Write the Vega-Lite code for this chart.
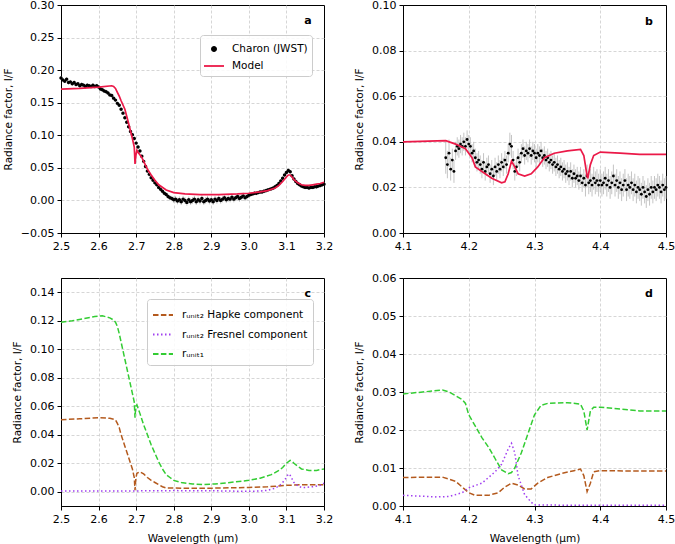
{
"$schema": "https://vega.github.io/schema/vega-lite/v6.json",
"padding": {"left": 2, "top": -2, "right": 0, "bottom": 0},
"columns": 2,
"spacing": {"row": 45, "column": 79},
"bounds": "flush",
"datasets": {
"aobs": [
{"x":2.500,"y":0.188,"e":0.003},{"x":2.505,"y":0.185,"e":0.003},{"x":2.510,"y":0.183,"e":0.003},{"x":2.515,"y":0.186,"e":0.003},{"x":2.520,"y":0.181,"e":0.003},{"x":2.525,"y":0.182,"e":0.003},{"x":2.530,"y":0.179,"e":0.003},{"x":2.535,"y":0.181,"e":0.003},{"x":2.540,"y":0.178,"e":0.003},{"x":2.545,"y":0.179,"e":0.003},
{"x":2.550,"y":0.176,"e":0.003},{"x":2.555,"y":0.178,"e":0.003},{"x":2.560,"y":0.177,"e":0.003},{"x":2.565,"y":0.175,"e":0.003},{"x":2.570,"y":0.177,"e":0.003},{"x":2.575,"y":0.176,"e":0.003},{"x":2.580,"y":0.175,"e":0.003},{"x":2.585,"y":0.177,"e":0.003},{"x":2.590,"y":0.175,"e":0.003},{"x":2.595,"y":0.176,"e":0.003},
{"x":2.600,"y":0.174,"e":0.003},{"x":2.605,"y":0.171,"e":0.003},{"x":2.610,"y":0.170,"e":0.003},{"x":2.615,"y":0.168,"e":0.003},{"x":2.620,"y":0.167,"e":0.003},{"x":2.625,"y":0.165,"e":0.003},{"x":2.630,"y":0.162,"e":0.003},{"x":2.635,"y":0.161,"e":0.003},{"x":2.640,"y":0.157,"e":0.003},{"x":2.645,"y":0.154,"e":0.003},
{"x":2.650,"y":0.149,"e":0.003},{"x":2.655,"y":0.146,"e":0.003},{"x":2.660,"y":0.140,"e":0.003},{"x":2.665,"y":0.134,"e":0.003},{"x":2.670,"y":0.127,"e":0.003},{"x":2.675,"y":0.120,"e":0.003},{"x":2.680,"y":0.113,"e":0.003},{"x":2.685,"y":0.106,"e":0.003},{"x":2.690,"y":0.101,"e":0.003},{"x":2.695,"y":0.095,"e":0.003},
{"x":2.700,"y":0.088,"e":0.003},{"x":2.705,"y":0.082,"e":0.003},{"x":2.710,"y":0.076,"e":0.003},{"x":2.715,"y":0.068,"e":0.003},{"x":2.720,"y":0.060,"e":0.003},{"x":2.725,"y":0.052,"e":0.003},{"x":2.730,"y":0.045,"e":0.003},{"x":2.735,"y":0.040,"e":0.003},{"x":2.740,"y":0.035,"e":0.003},{"x":2.745,"y":0.031,"e":0.003},
{"x":2.750,"y":0.027,"e":0.003},{"x":2.755,"y":0.024,"e":0.003},{"x":2.760,"y":0.020,"e":0.003},{"x":2.765,"y":0.017,"e":0.003},{"x":2.770,"y":0.014,"e":0.003},{"x":2.775,"y":0.011,"e":0.003},{"x":2.780,"y":0.009,"e":0.003},{"x":2.785,"y":0.006,"e":0.004},{"x":2.790,"y":0.004,"e":0.004},{"x":2.795,"y":0.003,"e":0.004},
{"x":2.800,"y":0.001,"e":0.005},{"x":2.805,"y":0.002,"e":0.005},{"x":2.810,"y":-0.001,"e":0.005},{"x":2.815,"y":0.001,"e":0.005},{"x":2.820,"y":-0.002,"e":0.005},{"x":2.825,"y":0.002,"e":0.005},{"x":2.830,"y":0.000,"e":0.005},{"x":2.835,"y":-0.003,"e":0.005},{"x":2.840,"y":0.001,"e":0.005},{"x":2.845,"y":-0.002,"e":0.005},
{"x":2.850,"y":0.000,"e":0.005},{"x":2.855,"y":0.002,"e":0.005},{"x":2.860,"y":-0.002,"e":0.005},{"x":2.865,"y":0.001,"e":0.005},{"x":2.870,"y":-0.001,"e":0.005},{"x":2.875,"y":0.003,"e":0.005},{"x":2.880,"y":-0.002,"e":0.005},{"x":2.885,"y":0.000,"e":0.005},{"x":2.890,"y":0.002,"e":0.005},{"x":2.895,"y":-0.001,"e":0.005},
{"x":2.900,"y":0.001,"e":0.005},{"x":2.905,"y":-0.002,"e":0.005},{"x":2.910,"y":0.002,"e":0.005},{"x":2.915,"y":0.000,"e":0.005},{"x":2.920,"y":0.003,"e":0.005},{"x":2.925,"y":0.000,"e":0.005},{"x":2.930,"y":0.002,"e":0.005},{"x":2.935,"y":0.004,"e":0.005},{"x":2.940,"y":0.001,"e":0.005},{"x":2.945,"y":0.003,"e":0.005},
{"x":2.950,"y":0.002,"e":0.005},{"x":2.955,"y":0.005,"e":0.005},{"x":2.960,"y":0.002,"e":0.005},{"x":2.965,"y":0.004,"e":0.005},{"x":2.970,"y":0.006,"e":0.005},{"x":2.975,"y":0.003,"e":0.005},{"x":2.980,"y":0.005,"e":0.005},{"x":2.985,"y":0.007,"e":0.005},{"x":2.990,"y":0.004,"e":0.005},{"x":2.995,"y":0.006,"e":0.005},
{"x":3.000,"y":0.008,"e":0.004},{"x":3.005,"y":0.009,"e":0.003},{"x":3.010,"y":0.010,"e":0.003},{"x":3.015,"y":0.011,"e":0.003},{"x":3.020,"y":0.011,"e":0.003},{"x":3.025,"y":0.012,"e":0.003},{"x":3.030,"y":0.013,"e":0.003},{"x":3.035,"y":0.013,"e":0.003},{"x":3.040,"y":0.014,"e":0.003},{"x":3.045,"y":0.015,"e":0.003},
{"x":3.050,"y":0.016,"e":0.003},{"x":3.055,"y":0.017,"e":0.003},{"x":3.060,"y":0.018,"e":0.003},{"x":3.065,"y":0.019,"e":0.003},{"x":3.070,"y":0.021,"e":0.003},{"x":3.075,"y":0.023,"e":0.003},{"x":3.080,"y":0.026,"e":0.003},{"x":3.085,"y":0.030,"e":0.003},{"x":3.090,"y":0.034,"e":0.003},{"x":3.095,"y":0.039,"e":0.003},
{"x":3.100,"y":0.043,"e":0.003},{"x":3.105,"y":0.046,"e":0.003},{"x":3.110,"y":0.044,"e":0.003},{"x":3.115,"y":0.038,"e":0.003},{"x":3.120,"y":0.033,"e":0.003},{"x":3.125,"y":0.029,"e":0.003},{"x":3.130,"y":0.026,"e":0.003},{"x":3.135,"y":0.024,"e":0.003},{"x":3.140,"y":0.022,"e":0.003},{"x":3.145,"y":0.021,"e":0.003},
{"x":3.150,"y":0.020,"e":0.003},{"x":3.155,"y":0.020,"e":0.003},{"x":3.160,"y":0.019,"e":0.003},{"x":3.165,"y":0.020,"e":0.003},{"x":3.170,"y":0.020,"e":0.003},{"x":3.175,"y":0.021,"e":0.003},{"x":3.180,"y":0.021,"e":0.003},{"x":3.185,"y":0.022,"e":0.003},{"x":3.190,"y":0.023,"e":0.003},{"x":3.195,"y":0.024,"e":0.003},
{"x":3.200,"y":0.025,"e":0.003}
],
"amod": [
{"x":2.50,"y":0.171},{"x":2.55,"y":0.172},{"x":2.60,"y":0.174},{"x":2.635,"y":0.176},{"x":2.64,"y":0.175},{"x":2.645,"y":0.172},{"x":2.65,"y":0.166},{"x":2.655,"y":0.160},{"x":2.66,"y":0.153},{"x":2.67,"y":0.140},{"x":2.68,"y":0.118},{"x":2.69,"y":0.095},{"x":2.695,"y":0.082},{"x":2.696,"y":0.070},{"x":2.697,"y":0.056},{"x":2.699,"y":0.068},{"x":2.702,"y":0.077},{"x":2.705,"y":0.074},{"x":2.71,"y":0.070},{"x":2.715,"y":0.066},{"x":2.72,"y":0.060},{"x":2.73,"y":0.048},{"x":2.74,"y":0.039},{"x":2.75,"y":0.031},{"x":2.76,"y":0.024},{"x":2.78,"y":0.016},{"x":2.80,"y":0.012},{"x":2.83,"y":0.010},{"x":2.87,"y":0.009},{"x":2.92,"y":0.009},{"x":2.97,"y":0.010},{"x":3.00,"y":0.011},{"x":3.03,"y":0.013},{"x":3.05,"y":0.015},{"x":3.07,"y":0.019},{"x":3.08,"y":0.023},{"x":3.09,"y":0.029},{"x":3.10,"y":0.036},{"x":3.105,"y":0.039},{"x":3.11,"y":0.039},{"x":3.115,"y":0.036},{"x":3.12,"y":0.032},{"x":3.13,"y":0.027},{"x":3.14,"y":0.024},{"x":3.15,"y":0.023},{"x":3.16,"y":0.023},{"x":3.17,"y":0.024},{"x":3.18,"y":0.025},{"x":3.19,"y":0.026},{"x":3.20,"y":0.028}
],
"bobs": [
{"x":4.1650,"y":0.033,"e":0.007},{"x":4.1675,"y":0.030,"e":0.006},{"x":4.1700,"y":0.035,"e":0.006},{"x":4.1725,"y":0.028,"e":0.005},{"x":4.1750,"y":0.032,"e":0.005},{"x":4.1775,"y":0.027,"e":0.005},{"x":4.1800,"y":0.036,"e":0.004},{"x":4.1825,"y":0.038,"e":0.004},{"x":4.1850,"y":0.037,"e":0.004},{"x":4.1875,"y":0.039,"e":0.004},
{"x":4.1900,"y":0.038,"e":0.004},{"x":4.1925,"y":0.040,"e":0.004},{"x":4.1950,"y":0.038,"e":0.004},{"x":4.1975,"y":0.041,"e":0.004},{"x":4.2000,"y":0.039,"e":0.004},{"x":4.2025,"y":0.038,"e":0.004},{"x":4.2050,"y":0.035,"e":0.004},{"x":4.2075,"y":0.036,"e":0.004},{"x":4.2100,"y":0.033,"e":0.004},{"x":4.2125,"y":0.031,"e":0.004},
{"x":4.2150,"y":0.032,"e":0.004},{"x":4.2175,"y":0.030,"e":0.004},{"x":4.2200,"y":0.028,"e":0.004},{"x":4.2225,"y":0.031,"e":0.004},{"x":4.2250,"y":0.027,"e":0.004},{"x":4.2275,"y":0.029,"e":0.004},{"x":4.2300,"y":0.030,"e":0.004},{"x":4.2325,"y":0.026,"e":0.004},{"x":4.2350,"y":0.028,"e":0.004},{"x":4.2375,"y":0.025,"e":0.004},
{"x":4.2400,"y":0.029,"e":0.004},{"x":4.2425,"y":0.027,"e":0.004},{"x":4.2450,"y":0.030,"e":0.004},{"x":4.2475,"y":0.028,"e":0.004},{"x":4.2500,"y":0.031,"e":0.004},{"x":4.2525,"y":0.029,"e":0.004},{"x":4.2550,"y":0.032,"e":0.004},{"x":4.2575,"y":0.030,"e":0.004},{"x":4.2600,"y":0.035,"e":0.004},{"x":4.2625,"y":0.039,"e":0.005},
{"x":4.2650,"y":0.038,"e":0.005},{"x":4.2675,"y":0.032,"e":0.004},{"x":4.2700,"y":0.027,"e":0.004},{"x":4.2725,"y":0.029,"e":0.004},{"x":4.2750,"y":0.033,"e":0.004},{"x":4.2775,"y":0.031,"e":0.004},{"x":4.2800,"y":0.035,"e":0.004},{"x":4.2825,"y":0.037,"e":0.004},{"x":4.2850,"y":0.034,"e":0.004},{"x":4.2875,"y":0.036,"e":0.004},
{"x":4.2900,"y":0.035,"e":0.004},{"x":4.2925,"y":0.037,"e":0.004},{"x":4.2950,"y":0.034,"e":0.004},{"x":4.2975,"y":0.036,"e":0.004},{"x":4.3000,"y":0.035,"e":0.004},{"x":4.3025,"y":0.033,"e":0.004},{"x":4.3050,"y":0.035,"e":0.004},{"x":4.3075,"y":0.034,"e":0.004},{"x":4.3100,"y":0.036,"e":0.004},{"x":4.3125,"y":0.033,"e":0.004},
{"x":4.3150,"y":0.034,"e":0.004},{"x":4.3175,"y":0.032,"e":0.004},{"x":4.3200,"y":0.033,"e":0.004},{"x":4.3225,"y":0.031,"e":0.004},{"x":4.3250,"y":0.032,"e":0.004},{"x":4.3275,"y":0.030,"e":0.004},{"x":4.3300,"y":0.031,"e":0.004},{"x":4.3325,"y":0.029,"e":0.004},{"x":4.3350,"y":0.030,"e":0.004},{"x":4.3375,"y":0.028,"e":0.004},
{"x":4.3400,"y":0.029,"e":0.004},{"x":4.3425,"y":0.027,"e":0.004},{"x":4.3450,"y":0.028,"e":0.004},{"x":4.3475,"y":0.026,"e":0.004},{"x":4.3500,"y":0.027,"e":0.004},{"x":4.3525,"y":0.025,"e":0.004},{"x":4.3550,"y":0.027,"e":0.004},{"x":4.3575,"y":0.024,"e":0.004},{"x":4.3600,"y":0.026,"e":0.004},{"x":4.3625,"y":0.024,"e":0.004},
{"x":4.3650,"y":0.025,"e":0.004},{"x":4.3675,"y":0.023,"e":0.004},{"x":4.3700,"y":0.025,"e":0.004},{"x":4.3725,"y":0.022,"e":0.004},{"x":4.3750,"y":0.024,"e":0.004},{"x":4.3775,"y":0.021,"e":0.005},{"x":4.3800,"y":0.025,"e":0.005},{"x":4.3825,"y":0.022,"e":0.005},{"x":4.3850,"y":0.023,"e":0.005},{"x":4.3875,"y":0.021,"e":0.005},
{"x":4.3900,"y":0.024,"e":0.005},{"x":4.3925,"y":0.022,"e":0.005},{"x":4.3950,"y":0.023,"e":0.005},{"x":4.3975,"y":0.021,"e":0.005},{"x":4.4000,"y":0.023,"e":0.005},{"x":4.4025,"y":0.021,"e":0.005},{"x":4.4050,"y":0.022,"e":0.005},{"x":4.4075,"y":0.024,"e":0.005},{"x":4.4100,"y":0.021,"e":0.005},{"x":4.4125,"y":0.023,"e":0.005},
{"x":4.4150,"y":0.020,"e":0.005},{"x":4.4175,"y":0.022,"e":0.005},{"x":4.4200,"y":0.025,"e":0.005},{"x":4.4225,"y":0.021,"e":0.005},{"x":4.4250,"y":0.023,"e":0.005},{"x":4.4275,"y":0.020,"e":0.005},{"x":4.4300,"y":0.022,"e":0.005},{"x":4.4325,"y":0.019,"e":0.005},{"x":4.4350,"y":0.021,"e":0.005},{"x":4.4375,"y":0.023,"e":0.005},
{"x":4.4400,"y":0.019,"e":0.005},{"x":4.4425,"y":0.021,"e":0.005},{"x":4.4450,"y":0.020,"e":0.005},{"x":4.4475,"y":0.022,"e":0.005},{"x":4.4500,"y":0.019,"e":0.005},{"x":4.4525,"y":0.021,"e":0.005},{"x":4.4550,"y":0.018,"e":0.005},{"x":4.4575,"y":0.020,"e":0.005},{"x":4.4600,"y":0.019,"e":0.005},{"x":4.4625,"y":0.017,"e":0.005},
{"x":4.4650,"y":0.020,"e":0.005},{"x":4.4675,"y":0.018,"e":0.005},{"x":4.4700,"y":0.016,"e":0.005},{"x":4.4725,"y":0.019,"e":0.005},{"x":4.4750,"y":0.017,"e":0.005},{"x":4.4775,"y":0.020,"e":0.005},{"x":4.4800,"y":0.018,"e":0.005},{"x":4.4825,"y":0.020,"e":0.005},{"x":4.4850,"y":0.019,"e":0.005},{"x":4.4875,"y":0.021,"e":0.005},
{"x":4.4900,"y":0.020,"e":0.005},{"x":4.4925,"y":0.018,"e":0.005},{"x":4.4950,"y":0.021,"e":0.005},{"x":4.4975,"y":0.019,"e":0.005},{"x":4.5000,"y":0.020,"e":0.005}
],
"bmod": [
{"x":4.10,"y":0.0400},{"x":4.165,"y":0.0405},{"x":4.18,"y":0.0390},{"x":4.195,"y":0.0370},{"x":4.205,"y":0.0330},{"x":4.21,"y":0.0290},{"x":4.22,"y":0.0270},{"x":4.235,"y":0.0240},{"x":4.25,"y":0.0220},{"x":4.255,"y":0.0225},{"x":4.26,"y":0.0260},{"x":4.265,"y":0.0315},{"x":4.27,"y":0.0290},{"x":4.275,"y":0.0260},{"x":4.285,"y":0.0250},{"x":4.295,"y":0.0260},{"x":4.305,"y":0.0290},{"x":4.315,"y":0.0330},{"x":4.33,"y":0.0350},{"x":4.35,"y":0.0360},{"x":4.37,"y":0.0367},{"x":4.375,"y":0.0340},{"x":4.38,"y":0.0250},{"x":4.381,"y":0.0240},{"x":4.385,"y":0.0300},{"x":4.39,"y":0.0340},{"x":4.40,"y":0.0355},{"x":4.43,"y":0.0350},{"x":4.46,"y":0.0345},{"x":4.50,"y":0.0345}
],
"c": [
{"x":2.50,"y":0.119,"k":"g"},{"x":2.53,"y":0.120,"k":"g"},{"x":2.56,"y":0.1215,"k":"g"},{"x":2.59,"y":0.123,"k":"g"},{"x":2.61,"y":0.1235,"k":"g"},{"x":2.63,"y":0.122,"k":"g"},{"x":2.64,"y":0.1205,"k":"g"},{"x":2.645,"y":0.119,"k":"g"},{"x":2.65,"y":0.116,"k":"g"},{"x":2.655,"y":0.111,"k":"g"},{"x":2.66,"y":0.105,"k":"g"},{"x":2.67,"y":0.093,"k":"g"},{"x":2.68,"y":0.081,"k":"g"},{"x":2.69,"y":0.069,"k":"g"},{"x":2.695,"y":0.063,"k":"g"},{"x":2.697,"y":0.052,"k":"g"},{"x":2.699,"y":0.060,"k":"g"},{"x":2.702,"y":0.061,"k":"g"},{"x":2.706,"y":0.058,"k":"g"},{"x":2.71,"y":0.055,"k":"g"},{"x":2.72,"y":0.047,"k":"g"},{"x":2.73,"y":0.040,"k":"g"},{"x":2.74,"y":0.033,"k":"g"},{"x":2.75,"y":0.027,"k":"g"},{"x":2.76,"y":0.021,"k":"g"},{"x":2.77,"y":0.016,"k":"g"},{"x":2.78,"y":0.012,"k":"g"},{"x":2.79,"y":0.010,"k":"g"},{"x":2.80,"y":0.008,"k":"g"},{"x":2.82,"y":0.0065,"k":"g"},{"x":2.85,"y":0.0055,"k":"g"},{"x":2.88,"y":0.005,"k":"g"},{"x":2.91,"y":0.0055,"k":"g"},{"x":2.95,"y":0.0065,"k":"g"},{"x":3.00,"y":0.008,"k":"g"},{"x":3.03,"y":0.0095,"k":"g"},{"x":3.06,"y":0.012,"k":"g"},{"x":3.08,"y":0.015,"k":"g"},{"x":3.09,"y":0.017,"k":"g"},{"x":3.10,"y":0.020,"k":"g"},{"x":3.11,"y":0.022,"k":"g"},{"x":3.115,"y":0.0215,"k":"g"},{"x":3.12,"y":0.020,"k":"g"},{"x":3.13,"y":0.018,"k":"g"},{"x":3.14,"y":0.016,"k":"g"},{"x":3.16,"y":0.015,"k":"g"},{"x":3.18,"y":0.015,"k":"g"},{"x":3.20,"y":0.016,"k":"g"},
{"x":2.50,"y":0.0505,"k":"h"},{"x":2.55,"y":0.0512,"k":"h"},{"x":2.60,"y":0.052,"k":"h"},{"x":2.63,"y":0.0515,"k":"h"},{"x":2.645,"y":0.0505,"k":"h"},{"x":2.65,"y":0.048,"k":"h"},{"x":2.655,"y":0.045,"k":"h"},{"x":2.66,"y":0.040,"k":"h"},{"x":2.67,"y":0.032,"k":"h"},{"x":2.68,"y":0.024,"k":"h"},{"x":2.69,"y":0.016,"k":"h"},{"x":2.695,"y":0.010,"k":"h"},{"x":2.697,"y":0.001,"k":"h"},{"x":2.699,"y":0.009,"k":"h"},{"x":2.702,"y":0.013,"k":"h"},{"x":2.71,"y":0.014,"k":"h"},{"x":2.72,"y":0.0125,"k":"h"},{"x":2.73,"y":0.010,"k":"h"},{"x":2.74,"y":0.008,"k":"h"},{"x":2.75,"y":0.0065,"k":"h"},{"x":2.76,"y":0.005,"k":"h"},{"x":2.77,"y":0.0035,"k":"h"},{"x":2.78,"y":0.0027,"k":"h"},{"x":2.82,"y":0.0025,"k":"h"},{"x":2.90,"y":0.0025,"k":"h"},{"x":3.00,"y":0.003,"k":"h"},{"x":3.05,"y":0.0035,"k":"h"},{"x":3.10,"y":0.0045,"k":"h"},{"x":3.15,"y":0.005,"k":"h"},{"x":3.20,"y":0.005,"k":"h"},
{"x":2.50,"y":0.0005,"k":"f"},{"x":2.70,"y":0.0006,"k":"f"},{"x":2.80,"y":0.0008,"k":"f"},{"x":2.90,"y":0.0007,"k":"f"},{"x":2.97,"y":0.0004,"k":"f"},{"x":3.00,"y":0.0003,"k":"f"},{"x":3.03,"y":0.0005,"k":"f"},{"x":3.05,"y":0.001,"k":"f"},{"x":3.07,"y":0.0025,"k":"f"},{"x":3.08,"y":0.004,"k":"f"},{"x":3.09,"y":0.0065,"k":"f"},{"x":3.10,"y":0.010,"k":"f"},{"x":3.105,"y":0.0125,"k":"f"},{"x":3.11,"y":0.0115,"k":"f"},{"x":3.115,"y":0.009,"k":"f"},{"x":3.12,"y":0.0065,"k":"f"},{"x":3.13,"y":0.0042,"k":"f"},{"x":3.14,"y":0.003,"k":"f"},{"x":3.15,"y":0.003,"k":"f"},{"x":3.17,"y":0.0035,"k":"f"},{"x":3.19,"y":0.0045,"k":"f"},{"x":3.20,"y":0.006,"k":"f"}
],
"d": [
{"x":4.10,"y":0.0295,"k":"g"},{"x":4.13,"y":0.0300,"k":"g"},{"x":4.16,"y":0.0305,"k":"g"},{"x":4.17,"y":0.0300,"k":"g"},{"x":4.18,"y":0.0290,"k":"g"},{"x":4.19,"y":0.0280,"k":"g"},{"x":4.195,"y":0.0270,"k":"g"},{"x":4.20,"y":0.0240,"k":"g"},{"x":4.21,"y":0.0210,"k":"g"},{"x":4.22,"y":0.0180,"k":"g"},{"x":4.23,"y":0.0155,"k":"g"},{"x":4.24,"y":0.0125,"k":"g"},{"x":4.25,"y":0.0095,"k":"g"},{"x":4.26,"y":0.0085,"k":"g"},{"x":4.265,"y":0.0088,"k":"g"},{"x":4.27,"y":0.0100,"k":"g"},{"x":4.28,"y":0.0140,"k":"g"},{"x":4.29,"y":0.0190,"k":"g"},{"x":4.30,"y":0.0240,"k":"g"},{"x":4.31,"y":0.0265,"k":"g"},{"x":4.32,"y":0.0270,"k":"g"},{"x":4.35,"y":0.0272,"k":"g"},{"x":4.37,"y":0.0268,"k":"g"},{"x":4.375,"y":0.0250,"k":"g"},{"x":4.38,"y":0.0200,"k":"g"},{"x":4.385,"y":0.0250,"k":"g"},{"x":4.39,"y":0.0260,"k":"g"},{"x":4.40,"y":0.0260,"k":"g"},{"x":4.43,"y":0.0255,"k":"g"},{"x":4.46,"y":0.0250,"k":"g"},{"x":4.50,"y":0.0250,"k":"g"},
{"x":4.10,"y":0.0075,"k":"h"},{"x":4.16,"y":0.0076,"k":"h"},{"x":4.18,"y":0.0065,"k":"h"},{"x":4.19,"y":0.0050,"k":"h"},{"x":4.20,"y":0.0035,"k":"h"},{"x":4.21,"y":0.0028,"k":"h"},{"x":4.23,"y":0.0028,"k":"h"},{"x":4.245,"y":0.0035,"k":"h"},{"x":4.255,"y":0.0050,"k":"h"},{"x":4.265,"y":0.0060,"k":"h"},{"x":4.275,"y":0.0055,"k":"h"},{"x":4.285,"y":0.0045,"k":"h"},{"x":4.295,"y":0.0045,"k":"h"},{"x":4.305,"y":0.0060,"k":"h"},{"x":4.32,"y":0.0075,"k":"h"},{"x":4.34,"y":0.0085,"k":"h"},{"x":4.36,"y":0.0093,"k":"h"},{"x":4.37,"y":0.0097,"k":"h"},{"x":4.375,"y":0.0080,"k":"h"},{"x":4.38,"y":0.0038,"k":"h"},{"x":4.385,"y":0.0060,"k":"h"},{"x":4.39,"y":0.0090,"k":"h"},{"x":4.40,"y":0.0093,"k":"h"},{"x":4.45,"y":0.0092,"k":"h"},{"x":4.50,"y":0.0092,"k":"h"},
{"x":4.10,"y":0.0028,"k":"f"},{"x":4.15,"y":0.0024,"k":"f"},{"x":4.17,"y":0.0025,"k":"f"},{"x":4.19,"y":0.0035,"k":"f"},{"x":4.20,"y":0.0048,"k":"f"},{"x":4.22,"y":0.0060,"k":"f"},{"x":4.24,"y":0.0090,"k":"f"},{"x":4.25,"y":0.0110,"k":"f"},{"x":4.26,"y":0.0150,"k":"f"},{"x":4.265,"y":0.0165,"k":"f"},{"x":4.27,"y":0.0140,"k":"f"},{"x":4.275,"y":0.0080,"k":"f"},{"x":4.285,"y":0.0030,"k":"f"},{"x":4.295,"y":0.0010,"k":"f"},{"x":4.30,"y":0.0003,"k":"f"},{"x":4.35,"y":0.0002,"k":"f"},{"x":4.50,"y":0.0002,"k":"f"}
]
},
"concat": [
{
"width": 263, "height": 228,
"layer": [
{"data": {"name": "aobs"}, "mark": {"type": "errorbar", "color": "#b5b5b5", "opacity": 0.8, "thickness": 1},
 "encoding": {
  "x": {"field": "x", "type": "quantitative", "scale": {"domain": [2.5, 3.2], "nice": false}, "axis": {"values": [2.5, 2.6, 2.7, 2.8, 2.9, 3.0, 3.1, 3.2], "tickCount": 20, "format": ".1f", "title": null, "gridOpacity": {"condition": {"test": "datum.value <= 2.501 || datum.value >= 3.199", "value": 0}, "value": 1}}},
  "y": {"field": "y", "type": "quantitative", "scale": {"domain": [-0.05, 0.3], "nice": false}, "axis": {"values": [-0.05, 0, 0.05, 0.1, 0.15, 0.2, 0.25, 0.3], "tickCount": 20, "format": ".2f", "title": "Radiance factor, I/F", "gridOpacity": {"condition": {"test": "datum.value <= -0.049 || datum.value >= 0.299", "value": 0}, "value": 1}}},
  "yError": {"field": "e"}}},
{"data": {"name": "aobs"}, "mark": {"type": "point", "filled": true, "size": 130, "opacity": 1, "strokeWidth": 0},
 "encoding": {
  "x": {"field": "x", "type": "quantitative"},
  "y": {"field": "y", "type": "quantitative"},
  "color": {"datum": "Charon (JWST)", "type": "nominal", "scale": {"domain": ["Charon (JWST)", "Model"], "range": ["#000000", "#eb1948"]},
   "legend": {"title": null, "orient": "none", "legendX": 139, "legendY": 30, "padding": 4, "rowPadding": 1, "labelOffset": 8, "symbolSize": 400, "symbolStrokeWidth": 0}},
  "shape": {"datum": "Charon (JWST)", "type": "nominal", "scale": {"domain": ["Charon (JWST)", "Model"], "range": ["M0.3,0A0.3,0.3 0 1,1 -0.3,0A0.3,0.3 0 1,1 0.3,0Z", "M-1,-0.09L1,-0.09L1,0.09L-1,0.09Z"]},
   "legend": {"title": null, "orient": "none", "legendX": 139, "legendY": 30, "padding": 4, "rowPadding": 1, "labelOffset": 8, "symbolSize": 400, "symbolStrokeWidth": 0}}}},
{"data": {"name": "amod"}, "mark": {"type": "line", "strokeWidth": 1.7, "color": "#eb1948"},
 "encoding": {
  "x": {"field": "x", "type": "quantitative"},
  "y": {"field": "y", "type": "quantitative"}}},
{"data": {"values": [{"t": "a"}]}, "mark": {"type": "text", "fontWeight": "bold", "fontSize": 11, "font": "DejaVu Sans", "color": "black"},
 "encoding": {"x": {"datum": 3.157}, "y": {"datum": 0.276}, "text": {"field": "t"}}}
]
},
{
"width": 263, "height": 228,
"layer": [
{"data": {"name": "bobs"}, "mark": {"type": "errorbar", "color": "#b5b5b5", "opacity": 0.8, "thickness": 1},
 "encoding": {
  "x": {"field": "x", "type": "quantitative", "scale": {"domain": [4.1, 4.5], "nice": false}, "axis": {"values": [4.1, 4.2, 4.3, 4.4, 4.5], "tickCount": 20, "format": ".1f", "title": null, "gridOpacity": {"condition": {"test": "datum.value <= 4.101 || datum.value >= 4.499", "value": 0}, "value": 1}}},
  "y": {"field": "y", "type": "quantitative", "scale": {"domain": [0, 0.1], "nice": false}, "axis": {"values": [0, 0.02, 0.04, 0.06, 0.08, 0.1], "tickCount": 20, "format": ".2f", "title": "Radiance factor, I/F", "gridOpacity": {"condition": {"test": "datum.value <= 0.0001 || datum.value >= 0.0999", "value": 0}, "value": 1}}},
  "yError": {"field": "e"}}},
{"data": {"name": "bobs"}, "mark": {"type": "point", "filled": true, "size": 8, "opacity": 1, "color": "#000000"},
 "encoding": {
  "x": {"field": "x", "type": "quantitative"},
  "y": {"field": "y", "type": "quantitative"}}},
{"data": {"name": "bmod"}, "mark": {"type": "line", "strokeWidth": 1.7, "color": "#eb1948"},
 "encoding": {
  "x": {"field": "x", "type": "quantitative"},
  "y": {"field": "y", "type": "quantitative"}}},
{"data": {"values": [{"t": "b"}]}, "mark": {"type": "text", "fontWeight": "bold", "fontSize": 11, "font": "DejaVu Sans", "color": "black"},
 "encoding": {"x": {"datum": 4.474}, "y": {"datum": 0.0925}, "text": {"field": "t"}}}
]
},
{
"width": 263, "height": 228,
"layer": [
{"data": {"name": "c"}, "mark": {"type": "line", "strokeWidth": 1.5},
 "encoding": {
  "x": {"field": "x", "type": "quantitative", "scale": {"domain": [2.5, 3.2], "nice": false}, "axis": {"values": [2.5, 2.6, 2.7, 2.8, 2.9, 3.0, 3.1, 3.2], "tickCount": 20, "format": ".1f", "title": "Wavelength (μm)", "gridOpacity": {"condition": {"test": "datum.value <= 2.501 || datum.value >= 3.199", "value": 0}, "value": 1}}},
  "y": {"field": "y", "type": "quantitative", "scale": {"domain": [-0.01, 0.15], "nice": false}, "axis": {"values": [0, 0.02, 0.04, 0.06, 0.08, 0.1, 0.12, 0.14], "tickCount": 20, "format": ".2f", "title": "Radiance factor, I/F"}},
  "color": {"field": "k", "type": "nominal", "scale": {"domain": ["h", "f", "g"], "range": ["#b45a1e", "#a040f0", "#33cc33"]},
   "legend": {"title": null, "orient": "none", "legendX": 86, "legendY": 21, "padding": 5, "rowPadding": 2.5, "labelOffset": 8, "symbolSize": 400, "symbolStrokeWidth": 1.8,
    "labelExpr": "datum.value === 'h' ? 'rᵤₙᵢₜ₂ Hapke component' : datum.value === 'f' ? 'rᵤₙᵢₜ₂ Fresnel component' : 'rᵤₙᵢₜ₁'"}},
  "strokeDash": {"field": "k", "type": "nominal", "scale": {"domain": ["h", "f", "g"], "range": [[5.5, 2.4], [1.5, 2.5], [5.5, 2.4]]},
   "legend": {"title": null, "orient": "none", "legendX": 86, "legendY": 21, "padding": 5, "rowPadding": 2.5, "labelOffset": 8, "symbolSize": 400, "symbolStrokeWidth": 1.8,
    "labelExpr": "datum.value === 'h' ? 'rᵤₙᵢₜ₂ Hapke component' : datum.value === 'f' ? 'rᵤₙᵢₜ₂ Fresnel component' : 'rᵤₙᵢₜ₁'"}}}},
{"data": {"values": [{"t": "c"}]}, "mark": {"type": "text", "fontWeight": "bold", "fontSize": 11, "font": "DejaVu Sans", "color": "black"},
 "encoding": {"x": {"datum": 3.157}, "y": {"datum": 0.139}, "text": {"field": "t"}}}
]
},
{
"width": 263, "height": 228,
"layer": [
{"data": {"name": "d"}, "mark": {"type": "line", "strokeWidth": 1.5},
 "encoding": {
  "x": {"field": "x", "type": "quantitative", "scale": {"domain": [4.1, 4.5], "nice": false}, "axis": {"values": [4.1, 4.2, 4.3, 4.4, 4.5], "tickCount": 20, "format": ".1f", "title": "Wavelength (μm)", "gridOpacity": {"condition": {"test": "datum.value <= 4.101 || datum.value >= 4.499", "value": 0}, "value": 1}}},
  "y": {"field": "y", "type": "quantitative", "scale": {"domain": [0, 0.06], "nice": false}, "axis": {"values": [0, 0.01, 0.02, 0.03, 0.04, 0.05, 0.06], "tickCount": 20, "format": ".2f", "title": "Radiance factor, I/F", "gridOpacity": {"condition": {"test": "datum.value <= 0.0001 || datum.value >= 0.0599", "value": 0}, "value": 1}}},
  "color": {"field": "k", "type": "nominal", "scale": {"domain": ["h", "f", "g"], "range": ["#b45a1e", "#a040f0", "#33cc33"]}, "legend": null},
  "strokeDash": {"field": "k", "type": "nominal", "scale": {"domain": ["h", "f", "g"], "range": [[5.5, 2.4], [1.5, 2.5], [5.5, 2.4]]}, "legend": null}}},
{"data": {"values": [{"t": "d"}]}, "mark": {"type": "text", "fontWeight": "bold", "fontSize": 11, "font": "DejaVu Sans", "color": "black"},
 "encoding": {"x": {"datum": 4.474}, "y": {"datum": 0.0558}, "text": {"field": "t"}}}
]
}
],
"resolve": {"scale": {"color": "independent", "strokeDash": "independent", "shape": "independent"}},
"config": {
 "font": "DejaVu Sans",
 "background": "white",
 "view": {"stroke": "#000000", "strokeWidth": 1},
 "axis": {"domainColor": "#000000", "domainWidth": 1, "tickColor": "#000000", "tickSize": 4, "tickWidth": 1,
  "labelColor": "#000000", "labelFontSize": 11, "labelFont": "DejaVu Sans", "labelPadding": 3, "labelFlush": false, "labelOverlap": false,
  "titleFontSize": 10.5, "titleFont": "DejaVu Sans", "titleFontWeight": "normal", "titleColor": "#000000",
  "gridColor": "#cccccc", "gridDash": [3, 2], "gridWidth": 0.8},
 "axisY": {"titlePadding": 7},
 "axisX": {"titlePadding": 9},
 "legend": {"labelFontSize": 10.5, "labelFont": "DejaVu Sans", "labelColor": "#000000", "strokeColor": "#cccccc", "fillColor": "rgba(255,255,255,0.85)", "cornerRadius": 3}
}
}
